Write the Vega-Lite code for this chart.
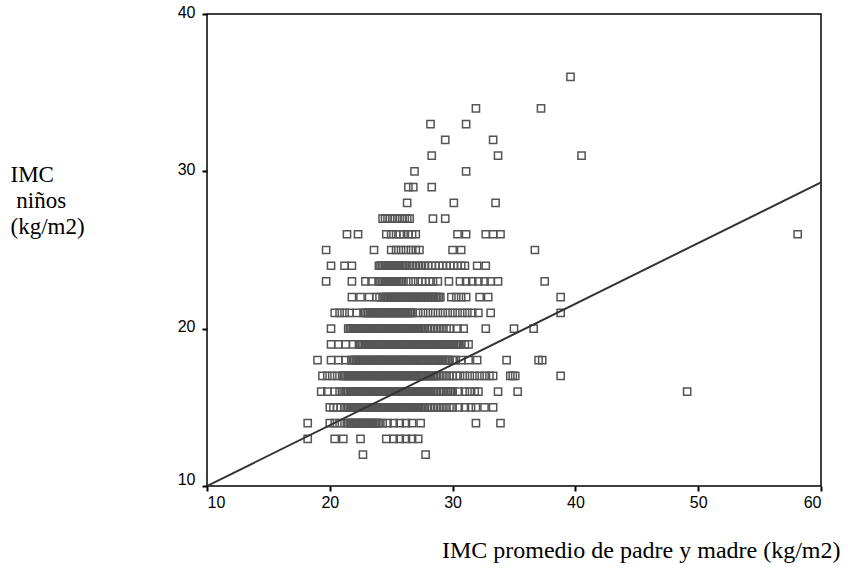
{
  "$schema": "https://vega.github.io/schema/vega-lite/v6.json",
  "autosize": {"type": "none"},
  "padding": {"left": 207, "top": 14, "right": 26, "bottom": 88},
  "width": 614,
  "height": 472,
  "background": "white",
  "config": {
    "view": {"stroke": "black", "strokeWidth": 1.5},
    "axis": {"grid": false, "domain": false, "tickColor": "black", "tickWidth": 2, "tickSize": 5,
             "labelFont": "Liberation Sans", "labelFontSize": 16, "labelColor": "black",
             "titleFont": "Liberation Serif", "titleFontSize": 23, "titleFontWeight": "normal", "titleColor": "black"}
  },
  "datasets": {
    "ninos": [
      {"padres": 22.7, "ninos": 12}, {"padres": 27.8, "ninos": 12},
      {"padres": 18.2, "ninos": 13}, {"padres": 20.4, "ninos": 13}, {"padres": 21.1, "ninos": 13}, {"padres": 22.5, "ninos": 13}, {"padres": 24.6, "ninos": 13}, {"padres": 25.2, "ninos": 13}, {"padres": 25.7, "ninos": 13}, {"padres": 26.2, "ninos": 13}, {"padres": 26.7, "ninos": 13}, {"padres": 27.2, "ninos": 13},
      {"padres": 18.2, "ninos": 14}, {"padres": 20.0, "ninos": 14}, {"padres": 20.4, "ninos": 14}, {"padres": 20.8, "ninos": 14}, {"padres": 21.2, "ninos": 14},
      {"padres": 21.5, "ninos": 14}, {"padres": 21.625, "ninos": 14}, {"padres": 21.75, "ninos": 14}, {"padres": 21.875, "ninos": 14}, {"padres": 22, "ninos": 14}, {"padres": 22.125, "ninos": 14}, {"padres": 22.25, "ninos": 14}, {"padres": 22.375, "ninos": 14}, {"padres": 22.5, "ninos": 14}, {"padres": 22.625, "ninos": 14}, {"padres": 22.75, "ninos": 14}, {"padres": 22.875, "ninos": 14}, {"padres": 23, "ninos": 14}, {"padres": 23.125, "ninos": 14}, {"padres": 23.25, "ninos": 14}, {"padres": 23.375, "ninos": 14}, {"padres": 23.5, "ninos": 14}, {"padres": 23.625, "ninos": 14}, {"padres": 23.75, "ninos": 14}, {"padres": 23.875, "ninos": 14}, {"padres": 24, "ninos": 14},
      {"padres": 24.3, "ninos": 14}, {"padres": 24.7, "ninos": 14}, {"padres": 25.2, "ninos": 14}, {"padres": 25.7, "ninos": 14}, {"padres": 26.2, "ninos": 14}, {"padres": 26.7, "ninos": 14}, {"padres": 27.4, "ninos": 14}, {"padres": 31.9, "ninos": 14}, {"padres": 33.9, "ninos": 14},
      {"padres": 20.0, "ninos": 15}, {"padres": 20.3, "ninos": 15}, {"padres": 20.6, "ninos": 15}, {"padres": 20.9, "ninos": 15}, {"padres": 21.2, "ninos": 15},
      {"padres": 21.375, "ninos": 15}, {"padres": 21.5, "ninos": 15}, {"padres": 21.625, "ninos": 15}, {"padres": 21.75, "ninos": 15}, {"padres": 21.875, "ninos": 15}, {"padres": 22, "ninos": 15}, {"padres": 22.125, "ninos": 15}, {"padres": 22.25, "ninos": 15}, {"padres": 22.375, "ninos": 15}, {"padres": 22.5, "ninos": 15}, {"padres": 22.625, "ninos": 15}, {"padres": 22.75, "ninos": 15}, {"padres": 22.875, "ninos": 15}, {"padres": 23, "ninos": 15}, {"padres": 23.125, "ninos": 15}, {"padres": 23.25, "ninos": 15}, {"padres": 23.375, "ninos": 15}, {"padres": 23.5, "ninos": 15}, {"padres": 23.625, "ninos": 15}, {"padres": 23.75, "ninos": 15}, {"padres": 23.875, "ninos": 15}, {"padres": 24, "ninos": 15}, {"padres": 24.125, "ninos": 15}, {"padres": 24.25, "ninos": 15}, {"padres": 24.375, "ninos": 15}, {"padres": 24.5, "ninos": 15}, {"padres": 24.625, "ninos": 15}, {"padres": 24.75, "ninos": 15}, {"padres": 24.875, "ninos": 15}, {"padres": 25, "ninos": 15}, {"padres": 25.125, "ninos": 15}, {"padres": 25.25, "ninos": 15}, {"padres": 25.375, "ninos": 15}, {"padres": 25.5, "ninos": 15}, {"padres": 25.625, "ninos": 15}, {"padres": 25.75, "ninos": 15}, {"padres": 25.875, "ninos": 15}, {"padres": 26, "ninos": 15}, {"padres": 26.125, "ninos": 15}, {"padres": 26.25, "ninos": 15}, {"padres": 26.375, "ninos": 15}, {"padres": 26.5, "ninos": 15}, {"padres": 26.625, "ninos": 15}, {"padres": 26.75, "ninos": 15}, {"padres": 26.875, "ninos": 15}, {"padres": 27, "ninos": 15}, {"padres": 27.125, "ninos": 15}, {"padres": 27.25, "ninos": 15}, {"padres": 27.375, "ninos": 15}, {"padres": 27.5, "ninos": 15}, {"padres": 27.625, "ninos": 15}, {"padres": 27.75, "ninos": 15},
      {"padres": 28.0, "ninos": 15}, {"padres": 28.25, "ninos": 15}, {"padres": 28.5, "ninos": 15}, {"padres": 28.75, "ninos": 15}, {"padres": 29.0, "ninos": 15}, {"padres": 29.25, "ninos": 15}, {"padres": 29.5, "ninos": 15}, {"padres": 29.75, "ninos": 15}, {"padres": 30.0, "ninos": 15}, {"padres": 30.5, "ninos": 15}, {"padres": 31.0, "ninos": 15}, {"padres": 31.5, "ninos": 15}, {"padres": 31.9, "ninos": 15}, {"padres": 32.6, "ninos": 15}, {"padres": 33.3, "ninos": 15},
      {"padres": 19.3, "ninos": 16}, {"padres": 19.8, "ninos": 16}, {"padres": 20.4, "ninos": 16}, {"padres": 20.8, "ninos": 16},
      {"padres": 21.125, "ninos": 16}, {"padres": 21.25, "ninos": 16}, {"padres": 21.375, "ninos": 16}, {"padres": 21.5, "ninos": 16}, {"padres": 21.625, "ninos": 16}, {"padres": 21.75, "ninos": 16}, {"padres": 21.875, "ninos": 16}, {"padres": 22, "ninos": 16}, {"padres": 22.125, "ninos": 16}, {"padres": 22.25, "ninos": 16}, {"padres": 22.375, "ninos": 16}, {"padres": 22.5, "ninos": 16}, {"padres": 22.625, "ninos": 16}, {"padres": 22.75, "ninos": 16}, {"padres": 22.875, "ninos": 16}, {"padres": 23, "ninos": 16}, {"padres": 23.125, "ninos": 16}, {"padres": 23.25, "ninos": 16}, {"padres": 23.375, "ninos": 16}, {"padres": 23.5, "ninos": 16}, {"padres": 23.625, "ninos": 16}, {"padres": 23.75, "ninos": 16}, {"padres": 23.875, "ninos": 16}, {"padres": 24, "ninos": 16}, {"padres": 24.125, "ninos": 16}, {"padres": 24.25, "ninos": 16}, {"padres": 24.375, "ninos": 16}, {"padres": 24.5, "ninos": 16}, {"padres": 24.625, "ninos": 16}, {"padres": 24.75, "ninos": 16}, {"padres": 24.875, "ninos": 16}, {"padres": 25, "ninos": 16}, {"padres": 25.125, "ninos": 16}, {"padres": 25.25, "ninos": 16}, {"padres": 25.375, "ninos": 16}, {"padres": 25.5, "ninos": 16}, {"padres": 25.625, "ninos": 16}, {"padres": 25.75, "ninos": 16}, {"padres": 25.875, "ninos": 16}, {"padres": 26, "ninos": 16}, {"padres": 26.125, "ninos": 16}, {"padres": 26.25, "ninos": 16}, {"padres": 26.375, "ninos": 16}, {"padres": 26.5, "ninos": 16}, {"padres": 26.625, "ninos": 16}, {"padres": 26.75, "ninos": 16}, {"padres": 26.875, "ninos": 16}, {"padres": 27, "ninos": 16}, {"padres": 27.125, "ninos": 16}, {"padres": 27.25, "ninos": 16}, {"padres": 27.375, "ninos": 16}, {"padres": 27.5, "ninos": 16}, {"padres": 27.625, "ninos": 16}, {"padres": 27.75, "ninos": 16}, {"padres": 27.875, "ninos": 16}, {"padres": 28, "ninos": 16}, {"padres": 28.125, "ninos": 16}, {"padres": 28.25, "ninos": 16}, {"padres": 28.375, "ninos": 16}, {"padres": 28.5, "ninos": 16}, {"padres": 28.625, "ninos": 16}, {"padres": 28.75, "ninos": 16}, {"padres": 29.0, "ninos": 16}, {"padres": 29.25, "ninos": 16}, {"padres": 29.5, "ninos": 16}, {"padres": 29.625, "ninos": 16}, {"padres": 29.75, "ninos": 16}, {"padres": 29.875, "ninos": 16}, {"padres": 30, "ninos": 16},
      {"padres": 30.5, "ninos": 16}, {"padres": 31.0, "ninos": 16}, {"padres": 31.4, "ninos": 16}, {"padres": 31.8, "ninos": 16}, {"padres": 32.1, "ninos": 16}, {"padres": 33.7, "ninos": 16}, {"padres": 35.3, "ninos": 16}, {"padres": 49.1, "ninos": 16},
      {"padres": 19.4, "ninos": 17}, {"padres": 19.8, "ninos": 17}, {"padres": 20.2, "ninos": 17}, {"padres": 20.6, "ninos": 17},
      {"padres": 21, "ninos": 17}, {"padres": 21.125, "ninos": 17}, {"padres": 21.25, "ninos": 17}, {"padres": 21.375, "ninos": 17}, {"padres": 21.5, "ninos": 17}, {"padres": 21.625, "ninos": 17}, {"padres": 21.75, "ninos": 17}, {"padres": 21.875, "ninos": 17}, {"padres": 22, "ninos": 17}, {"padres": 22.125, "ninos": 17}, {"padres": 22.25, "ninos": 17}, {"padres": 22.375, "ninos": 17}, {"padres": 22.5, "ninos": 17}, {"padres": 22.625, "ninos": 17}, {"padres": 22.75, "ninos": 17}, {"padres": 22.875, "ninos": 17}, {"padres": 23, "ninos": 17}, {"padres": 23.125, "ninos": 17}, {"padres": 23.25, "ninos": 17}, {"padres": 23.375, "ninos": 17}, {"padres": 23.5, "ninos": 17}, {"padres": 23.625, "ninos": 17}, {"padres": 23.75, "ninos": 17}, {"padres": 23.875, "ninos": 17}, {"padres": 24, "ninos": 17}, {"padres": 24.125, "ninos": 17}, {"padres": 24.25, "ninos": 17}, {"padres": 24.375, "ninos": 17}, {"padres": 24.5, "ninos": 17}, {"padres": 24.625, "ninos": 17}, {"padres": 24.75, "ninos": 17}, {"padres": 24.875, "ninos": 17}, {"padres": 25, "ninos": 17}, {"padres": 25.125, "ninos": 17}, {"padres": 25.25, "ninos": 17}, {"padres": 25.375, "ninos": 17}, {"padres": 25.5, "ninos": 17}, {"padres": 25.625, "ninos": 17}, {"padres": 25.75, "ninos": 17}, {"padres": 25.875, "ninos": 17}, {"padres": 26, "ninos": 17}, {"padres": 26.125, "ninos": 17}, {"padres": 26.25, "ninos": 17}, {"padres": 26.375, "ninos": 17}, {"padres": 26.5, "ninos": 17}, {"padres": 26.625, "ninos": 17}, {"padres": 26.75, "ninos": 17}, {"padres": 26.875, "ninos": 17}, {"padres": 27, "ninos": 17}, {"padres": 27.125, "ninos": 17}, {"padres": 27.25, "ninos": 17}, {"padres": 27.375, "ninos": 17}, {"padres": 27.5, "ninos": 17}, {"padres": 27.625, "ninos": 17}, {"padres": 27.75, "ninos": 17}, {"padres": 27.875, "ninos": 17}, {"padres": 28, "ninos": 17}, {"padres": 28.125, "ninos": 17}, {"padres": 28.25, "ninos": 17}, {"padres": 28.375, "ninos": 17}, {"padres": 28.5, "ninos": 17}, {"padres": 28.625, "ninos": 17}, {"padres": 28.75, "ninos": 17},
      {"padres": 29.0, "ninos": 17}, {"padres": 29.25, "ninos": 17}, {"padres": 29.5, "ninos": 17}, {"padres": 29.75, "ninos": 17}, {"padres": 30.0, "ninos": 17}, {"padres": 30.3, "ninos": 17}, {"padres": 30.6, "ninos": 17}, {"padres": 31.0, "ninos": 17}, {"padres": 31.4, "ninos": 17}, {"padres": 31.8, "ninos": 17}, {"padres": 32.2, "ninos": 17}, {"padres": 32.6, "ninos": 17}, {"padres": 33.0, "ninos": 17}, {"padres": 33.3, "ninos": 17}, {"padres": 34.7, "ninos": 17}, {"padres": 34.9, "ninos": 17}, {"padres": 35.1, "ninos": 17}, {"padres": 38.8, "ninos": 17},
      {"padres": 19.0, "ninos": 18}, {"padres": 20.1, "ninos": 18}, {"padres": 20.7, "ninos": 18}, {"padres": 21.3, "ninos": 18},
      {"padres": 21.75, "ninos": 18}, {"padres": 21.875, "ninos": 18}, {"padres": 22, "ninos": 18}, {"padres": 22.125, "ninos": 18}, {"padres": 22.25, "ninos": 18}, {"padres": 22.375, "ninos": 18}, {"padres": 22.5, "ninos": 18}, {"padres": 22.625, "ninos": 18}, {"padres": 22.75, "ninos": 18}, {"padres": 22.875, "ninos": 18}, {"padres": 23, "ninos": 18}, {"padres": 23.125, "ninos": 18}, {"padres": 23.25, "ninos": 18}, {"padres": 23.375, "ninos": 18}, {"padres": 23.5, "ninos": 18}, {"padres": 23.625, "ninos": 18}, {"padres": 23.75, "ninos": 18}, {"padres": 23.875, "ninos": 18}, {"padres": 24, "ninos": 18}, {"padres": 24.125, "ninos": 18}, {"padres": 24.25, "ninos": 18}, {"padres": 24.375, "ninos": 18}, {"padres": 24.5, "ninos": 18}, {"padres": 24.625, "ninos": 18}, {"padres": 24.75, "ninos": 18}, {"padres": 24.875, "ninos": 18}, {"padres": 25, "ninos": 18}, {"padres": 25.125, "ninos": 18}, {"padres": 25.25, "ninos": 18}, {"padres": 25.375, "ninos": 18}, {"padres": 25.5, "ninos": 18}, {"padres": 25.625, "ninos": 18}, {"padres": 25.75, "ninos": 18}, {"padres": 25.875, "ninos": 18}, {"padres": 26, "ninos": 18}, {"padres": 26.125, "ninos": 18}, {"padres": 26.25, "ninos": 18}, {"padres": 26.375, "ninos": 18}, {"padres": 26.5, "ninos": 18}, {"padres": 26.625, "ninos": 18}, {"padres": 26.75, "ninos": 18}, {"padres": 26.875, "ninos": 18}, {"padres": 27, "ninos": 18}, {"padres": 27.125, "ninos": 18}, {"padres": 27.25, "ninos": 18}, {"padres": 27.375, "ninos": 18}, {"padres": 27.5, "ninos": 18}, {"padres": 27.625, "ninos": 18}, {"padres": 27.75, "ninos": 18}, {"padres": 27.875, "ninos": 18}, {"padres": 28, "ninos": 18}, {"padres": 28.125, "ninos": 18}, {"padres": 28.25, "ninos": 18}, {"padres": 28.375, "ninos": 18}, {"padres": 28.5, "ninos": 18}, {"padres": 28.625, "ninos": 18}, {"padres": 28.75, "ninos": 18}, {"padres": 28.875, "ninos": 18}, {"padres": 29, "ninos": 18}, {"padres": 29.125, "ninos": 18}, {"padres": 29.25, "ninos": 18}, {"padres": 29.375, "ninos": 18}, {"padres": 29.5, "ninos": 18}, {"padres": 29.625, "ninos": 18}, {"padres": 29.75, "ninos": 18}, {"padres": 30.0, "ninos": 18}, {"padres": 30.25, "ninos": 18},
      {"padres": 30.7, "ninos": 18}, {"padres": 31.3, "ninos": 18}, {"padres": 32.0, "ninos": 18}, {"padres": 34.4, "ninos": 18}, {"padres": 37.0, "ninos": 18}, {"padres": 37.3, "ninos": 18},
      {"padres": 20.1, "ninos": 19}, {"padres": 20.7, "ninos": 19}, {"padres": 21.3, "ninos": 19}, {"padres": 21.9, "ninos": 19},
      {"padres": 22.375, "ninos": 19}, {"padres": 22.5, "ninos": 19}, {"padres": 22.625, "ninos": 19}, {"padres": 22.75, "ninos": 19}, {"padres": 22.875, "ninos": 19}, {"padres": 23, "ninos": 19}, {"padres": 23.125, "ninos": 19}, {"padres": 23.25, "ninos": 19}, {"padres": 23.375, "ninos": 19}, {"padres": 23.5, "ninos": 19}, {"padres": 23.625, "ninos": 19}, {"padres": 23.75, "ninos": 19}, {"padres": 23.875, "ninos": 19}, {"padres": 24, "ninos": 19}, {"padres": 24.125, "ninos": 19}, {"padres": 24.25, "ninos": 19}, {"padres": 24.375, "ninos": 19}, {"padres": 24.5, "ninos": 19}, {"padres": 24.625, "ninos": 19}, {"padres": 24.75, "ninos": 19}, {"padres": 24.875, "ninos": 19}, {"padres": 25, "ninos": 19}, {"padres": 25.125, "ninos": 19}, {"padres": 25.25, "ninos": 19}, {"padres": 25.375, "ninos": 19}, {"padres": 25.5, "ninos": 19}, {"padres": 25.625, "ninos": 19}, {"padres": 25.75, "ninos": 19}, {"padres": 25.875, "ninos": 19}, {"padres": 26, "ninos": 19}, {"padres": 26.125, "ninos": 19}, {"padres": 26.25, "ninos": 19}, {"padres": 26.375, "ninos": 19}, {"padres": 26.5, "ninos": 19}, {"padres": 26.625, "ninos": 19}, {"padres": 26.75, "ninos": 19}, {"padres": 26.875, "ninos": 19}, {"padres": 27, "ninos": 19}, {"padres": 27.125, "ninos": 19}, {"padres": 27.25, "ninos": 19}, {"padres": 27.375, "ninos": 19}, {"padres": 27.5, "ninos": 19}, {"padres": 27.625, "ninos": 19}, {"padres": 27.75, "ninos": 19}, {"padres": 27.875, "ninos": 19}, {"padres": 28, "ninos": 19}, {"padres": 28.125, "ninos": 19}, {"padres": 28.25, "ninos": 19}, {"padres": 28.375, "ninos": 19}, {"padres": 28.5, "ninos": 19}, {"padres": 28.625, "ninos": 19}, {"padres": 28.75, "ninos": 19}, {"padres": 28.875, "ninos": 19}, {"padres": 29, "ninos": 19}, {"padres": 29.125, "ninos": 19}, {"padres": 29.25, "ninos": 19}, {"padres": 29.375, "ninos": 19}, {"padres": 29.5, "ninos": 19}, {"padres": 29.625, "ninos": 19}, {"padres": 29.75, "ninos": 19}, {"padres": 29.875, "ninos": 19}, {"padres": 30, "ninos": 19}, {"padres": 30.125, "ninos": 19}, {"padres": 30.25, "ninos": 19}, {"padres": 30.375, "ninos": 19}, {"padres": 30.5, "ninos": 19}, {"padres": 30.625, "ninos": 19},
      {"padres": 31.0, "ninos": 19}, {"padres": 31.3, "ninos": 19},
      {"padres": 20.1, "ninos": 20},
      {"padres": 21.5, "ninos": 20}, {"padres": 21.625, "ninos": 20}, {"padres": 21.75, "ninos": 20}, {"padres": 21.875, "ninos": 20}, {"padres": 22, "ninos": 20}, {"padres": 22.125, "ninos": 20}, {"padres": 22.25, "ninos": 20}, {"padres": 22.375, "ninos": 20}, {"padres": 22.5, "ninos": 20}, {"padres": 22.625, "ninos": 20}, {"padres": 22.75, "ninos": 20}, {"padres": 22.875, "ninos": 20}, {"padres": 23, "ninos": 20}, {"padres": 23.125, "ninos": 20}, {"padres": 23.25, "ninos": 20}, {"padres": 23.375, "ninos": 20}, {"padres": 23.5, "ninos": 20}, {"padres": 23.625, "ninos": 20}, {"padres": 23.75, "ninos": 20}, {"padres": 23.875, "ninos": 20}, {"padres": 24, "ninos": 20}, {"padres": 24.125, "ninos": 20}, {"padres": 24.25, "ninos": 20}, {"padres": 24.375, "ninos": 20}, {"padres": 24.5, "ninos": 20}, {"padres": 24.625, "ninos": 20}, {"padres": 24.75, "ninos": 20}, {"padres": 24.875, "ninos": 20}, {"padres": 25, "ninos": 20}, {"padres": 25.125, "ninos": 20}, {"padres": 25.25, "ninos": 20}, {"padres": 25.375, "ninos": 20}, {"padres": 25.5, "ninos": 20}, {"padres": 25.625, "ninos": 20}, {"padres": 25.75, "ninos": 20}, {"padres": 25.875, "ninos": 20}, {"padres": 26, "ninos": 20}, {"padres": 26.125, "ninos": 20}, {"padres": 26.25, "ninos": 20}, {"padres": 26.375, "ninos": 20}, {"padres": 26.5, "ninos": 20}, {"padres": 26.625, "ninos": 20}, {"padres": 26.75, "ninos": 20}, {"padres": 26.875, "ninos": 20}, {"padres": 27, "ninos": 20}, {"padres": 27.125, "ninos": 20}, {"padres": 27.25, "ninos": 20}, {"padres": 27.375, "ninos": 20}, {"padres": 27.5, "ninos": 20}, {"padres": 27.625, "ninos": 20}, {"padres": 27.75, "ninos": 20},
      {"padres": 28.0, "ninos": 20}, {"padres": 28.25, "ninos": 20}, {"padres": 28.5, "ninos": 20}, {"padres": 28.75, "ninos": 20}, {"padres": 29.0, "ninos": 20}, {"padres": 29.25, "ninos": 20}, {"padres": 29.5, "ninos": 20}, {"padres": 29.75, "ninos": 20}, {"padres": 30.4, "ninos": 20}, {"padres": 30.9, "ninos": 20}, {"padres": 32.7, "ninos": 20}, {"padres": 35.0, "ninos": 20}, {"padres": 36.6, "ninos": 20},
      {"padres": 20.4, "ninos": 21}, {"padres": 20.8, "ninos": 21}, {"padres": 21.2, "ninos": 21}, {"padres": 21.6, "ninos": 21}, {"padres": 22.2, "ninos": 21},
      {"padres": 22.75, "ninos": 21}, {"padres": 22.875, "ninos": 21}, {"padres": 23, "ninos": 21}, {"padres": 23.125, "ninos": 21}, {"padres": 23.25, "ninos": 21}, {"padres": 23.375, "ninos": 21}, {"padres": 23.5, "ninos": 21}, {"padres": 23.625, "ninos": 21}, {"padres": 23.75, "ninos": 21}, {"padres": 23.875, "ninos": 21}, {"padres": 24, "ninos": 21}, {"padres": 24.125, "ninos": 21}, {"padres": 24.25, "ninos": 21}, {"padres": 24.375, "ninos": 21}, {"padres": 24.5, "ninos": 21}, {"padres": 24.625, "ninos": 21}, {"padres": 24.75, "ninos": 21}, {"padres": 24.875, "ninos": 21}, {"padres": 25, "ninos": 21}, {"padres": 25.125, "ninos": 21}, {"padres": 25.25, "ninos": 21}, {"padres": 25.375, "ninos": 21}, {"padres": 25.5, "ninos": 21}, {"padres": 25.625, "ninos": 21}, {"padres": 25.75, "ninos": 21}, {"padres": 25.875, "ninos": 21}, {"padres": 26, "ninos": 21}, {"padres": 26.125, "ninos": 21}, {"padres": 26.25, "ninos": 21}, {"padres": 26.375, "ninos": 21}, {"padres": 26.5, "ninos": 21}, {"padres": 26.625, "ninos": 21}, {"padres": 26.75, "ninos": 21},
      {"padres": 27.2, "ninos": 21}, {"padres": 27.6, "ninos": 21}, {"padres": 28.0, "ninos": 21}, {"padres": 28.4, "ninos": 21}, {"padres": 28.8, "ninos": 21}, {"padres": 29.2, "ninos": 21}, {"padres": 29.6, "ninos": 21}, {"padres": 30.0, "ninos": 21}, {"padres": 30.4, "ninos": 21}, {"padres": 30.8, "ninos": 21}, {"padres": 31.2, "ninos": 21}, {"padres": 31.6, "ninos": 21}, {"padres": 32.1, "ninos": 21}, {"padres": 33.1, "ninos": 21}, {"padres": 38.8, "ninos": 21},
      {"padres": 21.8, "ninos": 22}, {"padres": 22.5, "ninos": 22}, {"padres": 23.2, "ninos": 22}, {"padres": 23.8, "ninos": 22}, {"padres": 24.05, "ninos": 22}, {"padres": 24.3, "ninos": 22},
      {"padres": 24.5, "ninos": 22}, {"padres": 24.625, "ninos": 22}, {"padres": 24.75, "ninos": 22}, {"padres": 24.875, "ninos": 22}, {"padres": 25, "ninos": 22}, {"padres": 25.125, "ninos": 22}, {"padres": 25.25, "ninos": 22}, {"padres": 25.375, "ninos": 22}, {"padres": 25.5, "ninos": 22}, {"padres": 25.625, "ninos": 22}, {"padres": 25.75, "ninos": 22}, {"padres": 25.875, "ninos": 22}, {"padres": 26, "ninos": 22}, {"padres": 26.125, "ninos": 22}, {"padres": 26.25, "ninos": 22}, {"padres": 26.375, "ninos": 22}, {"padres": 26.5, "ninos": 22}, {"padres": 26.625, "ninos": 22}, {"padres": 26.75, "ninos": 22}, {"padres": 26.875, "ninos": 22}, {"padres": 27, "ninos": 22}, {"padres": 27.125, "ninos": 22}, {"padres": 27.25, "ninos": 22}, {"padres": 27.375, "ninos": 22}, {"padres": 27.5, "ninos": 22}, {"padres": 27.625, "ninos": 22}, {"padres": 27.75, "ninos": 22}, {"padres": 27.875, "ninos": 22}, {"padres": 28, "ninos": 22}, {"padres": 28.125, "ninos": 22}, {"padres": 28.25, "ninos": 22}, {"padres": 28.375, "ninos": 22}, {"padres": 28.5, "ninos": 22}, {"padres": 28.625, "ninos": 22}, {"padres": 28.75, "ninos": 22}, {"padres": 28.875, "ninos": 22}, {"padres": 29, "ninos": 22},
      {"padres": 29.9, "ninos": 22}, {"padres": 30.3, "ninos": 22}, {"padres": 30.7, "ninos": 22}, {"padres": 31.1, "ninos": 22}, {"padres": 32.2, "ninos": 22}, {"padres": 32.9, "ninos": 22}, {"padres": 38.8, "ninos": 22},
      {"padres": 19.7, "ninos": 23}, {"padres": 21.8, "ninos": 23}, {"padres": 22.9, "ninos": 23}, {"padres": 23.4, "ninos": 23},
      {"padres": 24, "ninos": 23}, {"padres": 24.125, "ninos": 23}, {"padres": 24.25, "ninos": 23}, {"padres": 24.375, "ninos": 23}, {"padres": 24.5, "ninos": 23}, {"padres": 24.625, "ninos": 23}, {"padres": 24.75, "ninos": 23}, {"padres": 24.875, "ninos": 23}, {"padres": 25, "ninos": 23}, {"padres": 25.125, "ninos": 23}, {"padres": 25.25, "ninos": 23}, {"padres": 25.375, "ninos": 23}, {"padres": 25.5, "ninos": 23}, {"padres": 25.625, "ninos": 23}, {"padres": 25.75, "ninos": 23}, {"padres": 25.875, "ninos": 23}, {"padres": 26, "ninos": 23},
      {"padres": 26.4, "ninos": 23}, {"padres": 26.8, "ninos": 23}, {"padres": 27.2, "ninos": 23}, {"padres": 27.5, "ninos": 23}, {"padres": 27.8, "ninos": 23}, {"padres": 28.1, "ninos": 23}, {"padres": 28.4, "ninos": 23}, {"padres": 28.8, "ninos": 23}, {"padres": 29.7, "ninos": 23}, {"padres": 30.6, "ninos": 23}, {"padres": 31.1, "ninos": 23}, {"padres": 31.6, "ninos": 23}, {"padres": 32.1, "ninos": 23}, {"padres": 32.6, "ninos": 23}, {"padres": 33.1, "ninos": 23}, {"padres": 33.7, "ninos": 23}, {"padres": 37.5, "ninos": 23},
      {"padres": 20.1, "ninos": 24}, {"padres": 21.2, "ninos": 24}, {"padres": 21.8, "ninos": 24},
      {"padres": 24, "ninos": 24}, {"padres": 24.125, "ninos": 24}, {"padres": 24.25, "ninos": 24}, {"padres": 24.375, "ninos": 24}, {"padres": 24.5, "ninos": 24}, {"padres": 24.625, "ninos": 24}, {"padres": 24.75, "ninos": 24}, {"padres": 24.875, "ninos": 24}, {"padres": 25, "ninos": 24}, {"padres": 25.125, "ninos": 24}, {"padres": 25.25, "ninos": 24}, {"padres": 25.375, "ninos": 24}, {"padres": 25.5, "ninos": 24}, {"padres": 25.625, "ninos": 24}, {"padres": 25.75, "ninos": 24}, {"padres": 25.875, "ninos": 24}, {"padres": 26, "ninos": 24}, {"padres": 26.125, "ninos": 24}, {"padres": 26.25, "ninos": 24},
      {"padres": 26.5, "ninos": 24}, {"padres": 26.75, "ninos": 24}, {"padres": 27.0, "ninos": 24}, {"padres": 27.25, "ninos": 24}, {"padres": 27.5, "ninos": 24}, {"padres": 27.75, "ninos": 24}, {"padres": 28.0, "ninos": 24}, {"padres": 28.3, "ninos": 24}, {"padres": 28.6, "ninos": 24}, {"padres": 28.9, "ninos": 24}, {"padres": 29.2, "ninos": 24}, {"padres": 29.5, "ninos": 24}, {"padres": 29.8, "ninos": 24}, {"padres": 30.1, "ninos": 24}, {"padres": 30.4, "ninos": 24}, {"padres": 30.7, "ninos": 24}, {"padres": 31.0, "ninos": 24}, {"padres": 32.0, "ninos": 24}, {"padres": 32.7, "ninos": 24},
      {"padres": 19.7, "ninos": 25}, {"padres": 23.6, "ninos": 25}, {"padres": 25.0, "ninos": 25}, {"padres": 25.4, "ninos": 25}, {"padres": 25.8, "ninos": 25}, {"padres": 26.2, "ninos": 25}, {"padres": 26.6, "ninos": 25}, {"padres": 27.0, "ninos": 25}, {"padres": 27.3, "ninos": 25}, {"padres": 30.0, "ninos": 25}, {"padres": 30.7, "ninos": 25}, {"padres": 36.7, "ninos": 25},
      {"padres": 21.4, "ninos": 26}, {"padres": 22.3, "ninos": 26}, {"padres": 24.6, "ninos": 26}, {"padres": 25.0, "ninos": 26}, {"padres": 25.4, "ninos": 26}, {"padres": 25.7, "ninos": 26}, {"padres": 26.0, "ninos": 26}, {"padres": 26.4, "ninos": 26}, {"padres": 26.7, "ninos": 26}, {"padres": 27.0, "ninos": 26}, {"padres": 30.4, "ninos": 26}, {"padres": 31.1, "ninos": 26}, {"padres": 32.7, "ninos": 26}, {"padres": 33.3, "ninos": 26}, {"padres": 33.9, "ninos": 26}, {"padres": 58.1, "ninos": 26},
      {"padres": 24.3, "ninos": 27}, {"padres": 24.5, "ninos": 27}, {"padres": 24.7, "ninos": 27}, {"padres": 24.9, "ninos": 27}, {"padres": 25.1, "ninos": 27}, {"padres": 25.3, "ninos": 27}, {"padres": 25.5, "ninos": 27}, {"padres": 25.7, "ninos": 27}, {"padres": 25.9, "ninos": 27}, {"padres": 26.1, "ninos": 27}, {"padres": 26.3, "ninos": 27}, {"padres": 26.5, "ninos": 27}, {"padres": 28.4, "ninos": 27}, {"padres": 29.4, "ninos": 27},
      {"padres": 26.3, "ninos": 28}, {"padres": 30.1, "ninos": 28}, {"padres": 33.5, "ninos": 28},
      {"padres": 26.4, "ninos": 29}, {"padres": 26.8, "ninos": 29}, {"padres": 28.3, "ninos": 29},
      {"padres": 26.9, "ninos": 30}, {"padres": 31.1, "ninos": 30},
      {"padres": 28.3, "ninos": 31}, {"padres": 33.7, "ninos": 31}, {"padres": 40.5, "ninos": 31},
      {"padres": 29.4, "ninos": 32}, {"padres": 33.3, "ninos": 32},
      {"padres": 28.2, "ninos": 33}, {"padres": 31.1, "ninos": 33},
      {"padres": 31.9, "ninos": 34}, {"padres": 37.2, "ninos": 34},
      {"padres": 39.6, "ninos": 36}
    ],
    "ajuste": [
      {"padres": 10, "ninos": 10},
      {"padres": 60, "ninos": 29.3}
    ]
  },
  "encoding": {
    "x": {"field": "padres", "type": "quantitative",
          "scale": {"domain": [10, 60], "nice": false, "zero": false},
          "axis": {"values": [10, 20, 30, 40, 50, 60], "labelPadding": 3,
                   "title": "IMC promedio de padre y madre (kg/m2)", "titleFontSize": 24,
                   "titleX": 633, "titleY": 71, "titleAlign": "right", "titleAnchor": null, "titleBaseline": "alphabetic"}},
    "y": {"field": "ninos", "type": "quantitative",
          "scale": {"domain": [10, 40], "nice": false, "zero": false},
          "axis": {"values": [10, 20, 30, 40], "labelPadding": 7, "labelBaseline": "middle",
                   "labelOffset": {"condition": {"test": "datum.value == 10", "value": -7}, "value": -2},
                   "title": ["IMC", "\u200b\u00a0niños", "(kg/m2)"],
                   "titleAngle": 0, "titleAlign": "left", "titleBaseline": "top",
                   "titleX": -197, "titleY": 149, "titleLineHeight": 26}}
  },
  "layer": [
    {
      "data": {"name": "ninos"},
      "mark": {"type": "point", "shape": "square", "filled": false, "size": 52, "strokeWidth": 1.5, "color": "#555555", "opacity": 1}
    },
    {
      "data": {"name": "ajuste"},
      "mark": {"type": "line", "color": "#333333", "strokeWidth": 2, "clip": true}
    }
  ]
}
